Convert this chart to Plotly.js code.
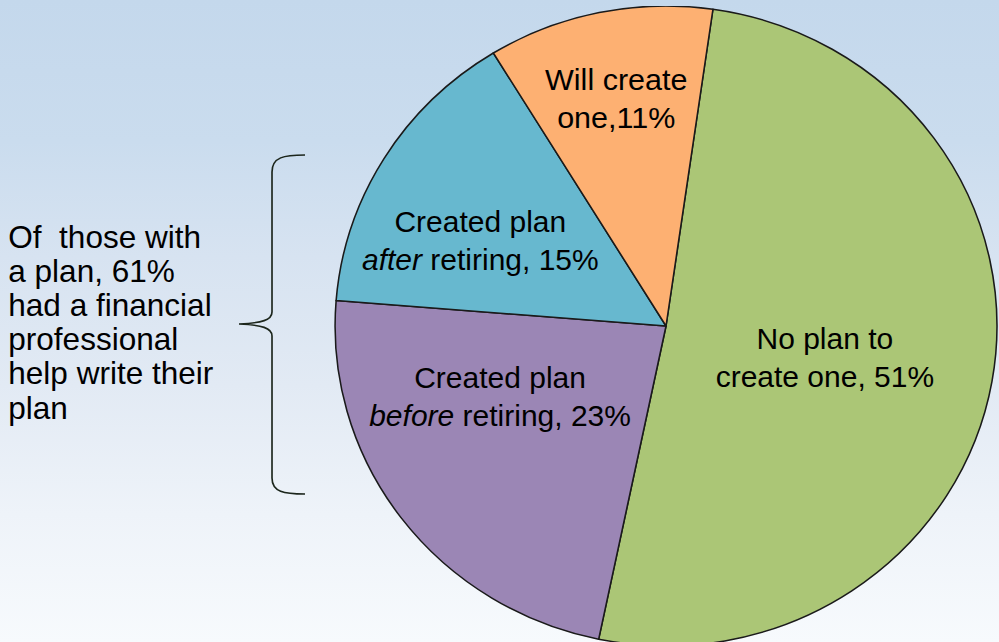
<!DOCTYPE html>
<html>
<head>
<meta charset="utf-8">
<script src="https://cdn.plot.ly/plotly-3.0.1.min.js"></script>
<style>
  html, body { margin: 0; padding: 0; width: 999px; height: 642px; overflow: hidden; }
  body { background: linear-gradient(to bottom, #c4d8ec 0%, #cadcee 22%, #d7e3f1 40%, #e2eaf4 60%, #eef3f9 80%, #f7fafd 100%); }
  #chart { position: absolute; left: 0; top: 6px; width: 966px; height: 640px; transform: scaleX(1.0342); transform-origin: 0 0; }
</style>
</head>
<body>
<div id="chart"></div>
<script>
// ---- data ----
const categories = ['No plan to create one', 'Created plan before retiring', 'Created plan after retiring', 'Will create one'];
const values = [51, 23, 15, 11];
const sliceColors = ['#abc676', '#9b86b5', '#67b8cf', '#fdb072'];
const sideNoteLines = ['Of  those with', 'a plan, 61%', 'had a financial', 'professional', 'help write their', 'plan'];

// ---- helpers: screen pixel -> paper coords ----
const px = x => x / 999;
const py = y => 1 - (y - 6) / 640;

const FONT = 'Arial, "Liberation Sans", Helvetica, sans-serif';

const sliceLabels = [
  {text: 'No plan to<br>create one, ' + values[0] + '%', x: 825, y: 358, size: 29},
  {text: 'Created plan<br><i>before</i> retiring, ' + values[1] + '%', x: 500, y: 397, size: 29},
  {text: 'Created plan<br><i>after</i> retiring, ' + values[2] + '%', x: 480, y: 241, size: 29},
  {text: 'Will create<br>one,' + values[3] + '%', x: 616, y: 99, size: 29.5}
];

const annotations = sliceLabels.map(l => ({
  text: l.text, x: px(l.x), y: py(l.y), xref: 'paper', yref: 'paper',
  xanchor: 'center', yanchor: 'middle', showarrow: false, align: 'center',
  font: {family: FONT, size: l.size, color: '#000'}
}));

const noteTop = 237, noteStep = 34.2;
sideNoteLines.forEach((t, i) => {
  annotations.push({
    text: t, x: px(6), y: py(noteTop + i * noteStep), xref: 'paper', yref: 'paper',
    xanchor: 'left', yanchor: 'middle', showarrow: false, align: 'left',
    font: {family: FONT, size: 30.5, color: '#000'}
  });
});

// curly brace
const P = (x, y) => px(x).toFixed(5) + ',' + py(y).toFixed(5);
const bracePath = 'M' + P(305, 155) + ' C' + P(284, 155) + ' ' + P(272, 157) + ' ' + P(272, 172) +
  ' L' + P(272, 312) + ' C' + P(272, 320) + ' ' + P(262, 323) + ' ' + P(239, 324) +
  ' C' + P(262, 325) + ' ' + P(272, 328) + ' ' + P(272, 336) +
  ' L' + P(272, 478) + ' C' + P(272, 492) + ' ' + P(284, 494) + ' ' + P(305, 494);

const trace = {
  type: 'pie',
  labels: categories,
  values: values,
  sort: false,
  direction: 'clockwise',
  rotation: 8.15,
  textinfo: 'none',
  hoverinfo: 'none',
  marker: {colors: sliceColors, line: {color: '#1a1a1a', width: 1.5}},
  domain: {x: [324 / 966, 964 / 966], y: [0, 1]}
};

const layout = {
  width: 966, height: 640,
  margin: {l: 0, r: 0, t: 0, b: 0},
  paper_bgcolor: 'rgba(0,0,0,0)',
  plot_bgcolor: 'rgba(0,0,0,0)',
  showlegend: false,
  annotations: annotations,
  shapes: [{type: 'path', xref: 'paper', yref: 'paper', path: bracePath,
            line: {color: '#1c261c', width: 1.6}}],
  font: {family: FONT}
};

Plotly.newPlot('chart', [trace], layout, {staticPlot: true, displayModeBar: false});
</script>
</body>
</html>
